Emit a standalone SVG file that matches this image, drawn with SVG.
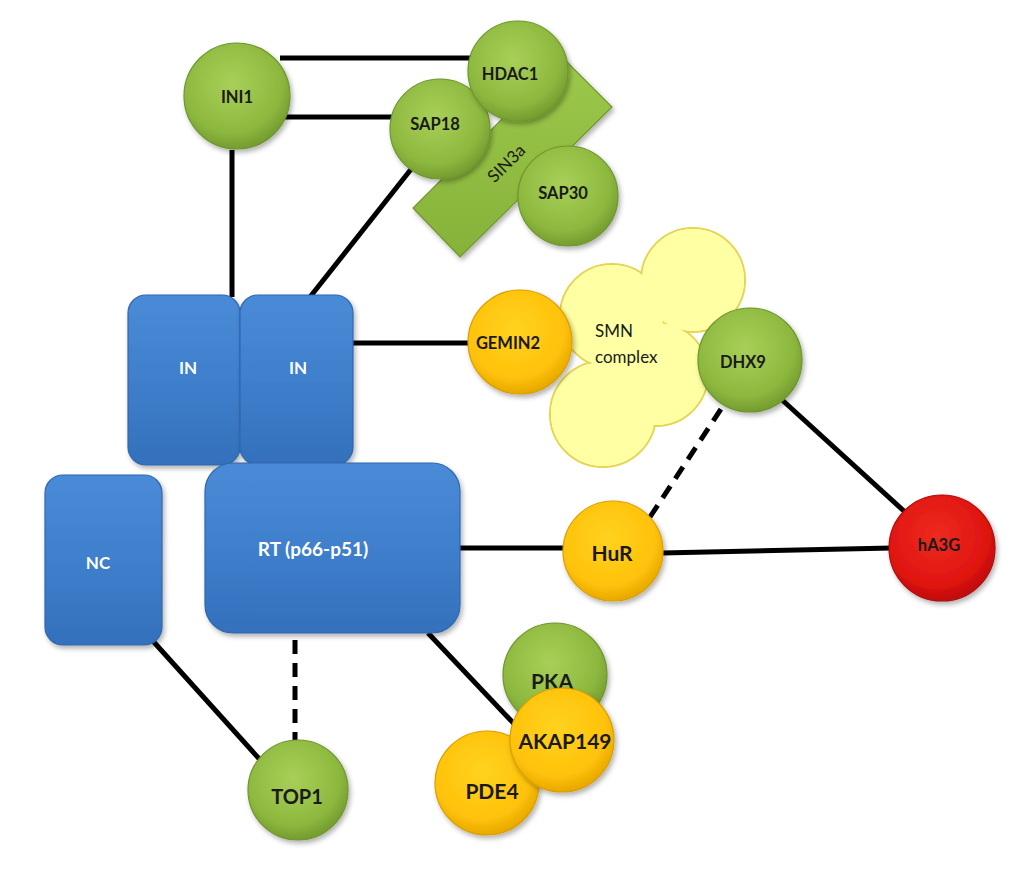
<svg xmlns="http://www.w3.org/2000/svg" width="1024" height="874" viewBox="0 0 1024 874">
<defs>
<radialGradient id="gGreen" cx="45%" cy="38%" r="62%">
<stop offset="0" stop-color="#A8D058"/><stop offset="0.75" stop-color="#8DB83E"/><stop offset="1" stop-color="#749C30"/>
</radialGradient>
<radialGradient id="gYellow" cx="45%" cy="38%" r="62%">
<stop offset="0" stop-color="#FFD21F"/><stop offset="0.75" stop-color="#FFC20A"/><stop offset="1" stop-color="#E8A800"/>
</radialGradient>
<radialGradient id="gRed" cx="45%" cy="38%" r="62%">
<stop offset="0" stop-color="#EE2A20"/><stop offset="0.75" stop-color="#E01510"/><stop offset="1" stop-color="#C00A08"/>
</radialGradient>
<linearGradient id="gBlue" x1="0" y1="0" x2="0" y2="1">
<stop offset="0" stop-color="#4A8BD8"/><stop offset="0.5" stop-color="#3F7FCC"/><stop offset="1" stop-color="#3470BC"/>
</linearGradient>
<linearGradient id="gSin" x1="0" y1="0" x2="0" y2="1">
<stop offset="0" stop-color="#9CC84A"/><stop offset="1" stop-color="#86B23A"/>
</linearGradient>
<filter id="sh" x="-20%" y="-20%" width="140%" height="140%">
<feDropShadow dx="2" dy="3" stdDeviation="2.5" flood-color="#000" flood-opacity="0.3"/>
</filter>
</defs>
<style>
.ln{stroke:#000;stroke-width:5;fill:none}
.dash{stroke-dasharray:14 9}
.green{fill:url(#gGreen);stroke:#6E962C;stroke-width:1.2;filter:url(#sh)}
.yellow{fill:url(#gYellow);stroke:#D9A000;stroke-width:1.2;filter:url(#sh)}
.red{fill:url(#gRed);stroke:#B00808;stroke-width:1.2;filter:url(#sh)}
.blue{fill:url(#gBlue);stroke:#2F67AE;stroke-width:1.2;filter:url(#sh)}
.smnS{fill:none;stroke:#E6D64C;stroke-width:2}
.smnF{fill:#FFFFA3}
.lbl{font-family:Lato,"Liberation Sans",sans-serif;font-weight:bold;fill:#1A1A1A;text-anchor:middle;dominant-baseline:central}
.wl{font-family:Lato,"Liberation Sans",sans-serif;font-weight:bold;fill:#FFFFFF;text-anchor:middle;dominant-baseline:central}
.reg{font-family:Lato,"Liberation Sans",sans-serif;fill:#1A1A1A}
</style>
<rect width="1024" height="874" fill="#FFFFFF"/>
<g id="connectors">
<line class="ln" x1="280" y1="58" x2="472" y2="58"/>
<line class="ln" x1="285" y1="117" x2="396" y2="117"/>
<line class="ln" x1="232" y1="150" x2="232" y2="297"/>
<line class="ln" x1="412" y1="168" x2="310" y2="297"/>
<line class="ln" x1="353" y1="343" x2="470" y2="343"/>
<line class="ln" x1="460" y1="548" x2="565" y2="548"/>
<line class="ln" x1="662" y1="553" x2="892" y2="548"/>
<line class="ln" x1="780" y1="398" x2="905" y2="512"/>
<line class="ln dash" x1="650" y1="517" x2="727" y2="400"/>
<line class="ln dash" x1="295" y1="640" x2="295" y2="740"/>
<line class="ln" x1="152" y1="640" x2="262" y2="762"/>
<line class="ln" x1="428" y1="633" x2="518" y2="728"/>
</g>
<g id="SIN3a">
<polygon points="413,208 460,257 612,107 563,58" fill="url(#gSin)" stroke="#6E962C" stroke-width="1.2" filter="url(#sh)"/>
<text class="reg" x="506" y="163" font-size="17" text-anchor="middle" dominant-baseline="central" transform="rotate(-45 506 163)">SIN3a</text>
</g>
<g id="SAP30"><circle class="green" cx="568" cy="196" r="50"/><text class="lbl" x="563" y="193" font-size="16.5">SAP30</text></g>
<g id="SAP18"><circle class="green" cx="440" cy="129" r="50"/><text class="lbl" x="435" y="124" font-size="16.5">SAP18</text></g>
<g id="HDAC1"><circle class="green" cx="518" cy="71" r="50"/><text class="lbl" x="510" y="74" font-size="16.5">HDAC1</text></g>
<g id="INI1"><circle class="green" cx="237" cy="96" r="53"/><text class="lbl" x="237" y="97" font-size="16.5">INI1</text></g>
<g id="IN1"><rect class="blue" x="128" y="295" width="112" height="170" rx="18"/><text class="wl" x="188" y="367" font-size="17">IN</text></g>
<g id="IN2"><rect class="blue" x="240" y="295" width="113" height="170" rx="18"/><text class="wl" x="298" y="367" font-size="17">IN</text></g>
<g id="NC"><rect class="blue" x="45" y="475" width="117" height="170" rx="18"/><text class="wl" x="98" y="562" font-size="17">NC</text></g>
<g id="RT"><rect class="blue" x="205" y="463" width="255" height="170" rx="28"/><text class="wl" x="313" y="548" font-size="19">RT (p66-p51)</text></g>
<g id="SMN">
<circle class="smnS" cx="693" cy="280" r="52"/>
<circle class="smnS" cx="612" cy="316" r="52"/>
<circle class="smnS" cx="656" cy="374" r="52"/>
<circle class="smnS" cx="603" cy="414" r="53"/>
<circle class="smnF" cx="693" cy="280" r="51"/>
<circle class="smnF" cx="612" cy="316" r="51"/>
<circle class="smnF" cx="656" cy="374" r="51"/>
<circle class="smnF" cx="603" cy="414" r="52"/>
<text class="reg" x="595" y="337" font-size="17">SMN</text>
<text class="reg" x="595" y="363" font-size="17">complex</text>
</g>
<g id="GEMIN2"><circle class="yellow" cx="520" cy="342" r="52"/><text class="lbl" x="508" y="343" font-size="16.5">GEMIN2</text></g>
<g id="DHX9"><circle class="green" cx="750" cy="360" r="52"/><text class="lbl" x="743" y="362" font-size="16.5">DHX9</text></g>
<g id="HuR"><circle class="yellow" cx="613" cy="551" r="50"/><text class="lbl" x="612" y="552" font-size="21">HuR</text></g>
<g id="hA3G"><circle class="red" cx="942" cy="548" r="53"/><text class="lbl" x="939" y="545" font-size="16.5">hA3G</text></g>
<g id="TOP1"><circle class="green" cx="298" cy="790" r="50"/><text class="lbl" x="297" y="796" font-size="20">TOP1</text></g>
<g id="PKA"><circle class="green" cx="555" cy="675" r="52"/><text class="lbl" x="552" y="680" font-size="21">PKA</text></g>
<g id="PDE4"><circle class="yellow" cx="487" cy="783" r="52"/><text class="lbl" x="492" y="790" font-size="21">PDE4</text></g>
<g id="AKAP149"><circle class="yellow" cx="562" cy="740" r="52"/><text class="lbl" x="565" y="740" font-size="21">AKAP149</text></g>
</svg>
